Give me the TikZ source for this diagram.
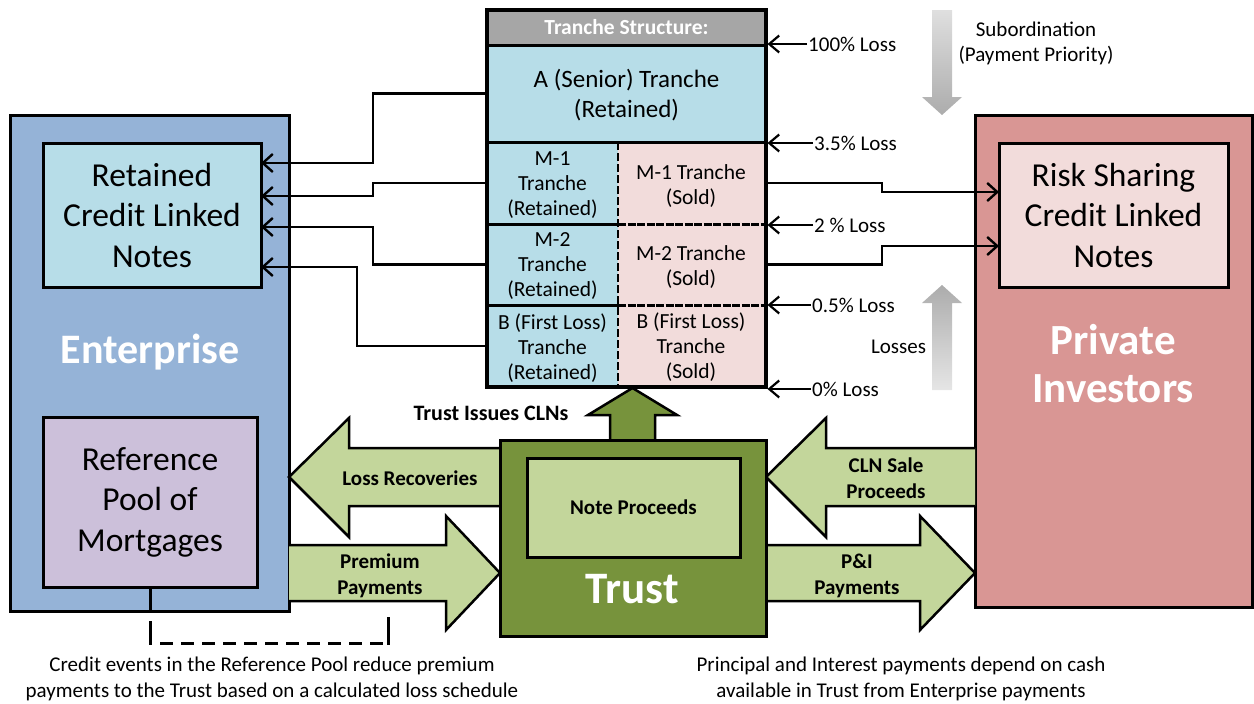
\documentclass[tikz,border=0pt]{standalone}
\usepackage{fontspec}
\setmainfont{Carlito}
\usetikzlibrary{arrows.meta,calc}

\definecolor{entblue}{HTML}{95B3D7}
\definecolor{cellblue}{HTML}{B7DDE8}
\definecolor{poolpurple}{HTML}{CCC0DA}
\definecolor{invred}{HTML}{D99694}
\definecolor{cellpink}{HTML}{F2DCDB}
\definecolor{trustgreen}{HTML}{77933C}
\definecolor{lightgreen}{HTML}{C3D69B}
\definecolor{headgray}{HTML}{A6A6A6}

\newcommand\fsz[2]{\fontsize{#1}{#2}\selectfont}

\begin{document}
\begin{tikzpicture}[x=1pt,y=-1pt,
  box/.style={draw=black,line width=3pt,inner sep=0pt,outer sep=0pt},
  cell/.style={inner sep=0pt,outer sep=0pt,align=center},
  conn/.style={draw=black,line width=2.4pt,line join=miter,
    -{Straight Barb[length=10pt,width=18pt]}},
  lossarrow/.style={draw=black,line width=2.2pt,
    -{Straight Barb[length=10pt,width=17pt]},shorten >=1.5pt},
  blockarrow/.style={fill=lightgreen,draw=black,line width=2.5pt,line join=miter},
  lbl/.style={font=\fsz{21}{25},align=center,inner sep=0pt},
  blbl/.style={font=\bfseries\fsz{21}{26},align=center,inner sep=0pt},
  biglbl/.style={font=\fsz{33.5}{40.5},align=center,inner sep=0pt},
  hugelbl/.style={text=white,font=\bfseries\fsz{43}{48},align=center,inner sep=0pt},
  brk/.style={draw=black,line width=3pt}]
\useasboundingbox (0,0) rectangle (1254,704);

% ---------- Enterprise ----------
\node[box,fill=entblue,minimum width=279pt,minimum height=496pt] (ent) at (149.5,363) {};
\node[box,fill=cellblue,minimum width=218pt,minimum height=144pt] (rcln) at (152,215) {};
\node[biglbl] (rclntxt) at (rcln) {Retained\\Credit Linked\\Notes};
\node[hugelbl,font=\bfseries\fsz{42}{46}] (enttxt) at (150,352) {Enterprise};
\node[box,fill=poolpurple,minimum width=214pt,minimum height=170pt] (pool) at (150,502) {};
\node[biglbl] (pooltxt) at (pool) {Reference\\Pool of\\Mortgages};

% ---------- Private investors ----------
\node[box,fill=invred,minimum width=277pt,minimum height=492pt] (inv) at (1113.5,361) {};
\node[box,fill=cellpink,minimum width=229pt,minimum height=144pt] (rsc) at (1113.5,215) {};
\node[biglbl] (rsctxt) at (rsc) {Risk Sharing\\Credit Linked\\Notes};
\node[hugelbl] (invtxt) at (1113,364) {Private\\Investors};

% ---------- Tranche structure ----------
\node[cell,fill=headgray,minimum width=279pt,minimum height=35pt,
  text=white,font=\bfseries\fsz{21.5}{22}] (hdr) at (626.5,27.5) {Tranche Structure:};
\node[cell,fill=cellblue,minimum width=279pt,minimum height=97pt] (A) at (626.5,93.5) {};
\node[cell,font=\fsz{25}{30}] (Atxt) at (626.5,95) {A (Senior) Tranche\\(Retained)};
\tikzset{tcell/.style={cell,minimum width=#1},
  tcelltxt/.style={cell,font=\fsz{21.5}{25}}}
\node[tcell=131pt,fill=cellblue,minimum height=82pt] (M1r) at (552.5,183) {};
\node[tcell=148pt,fill=cellpink,minimum height=82pt] (M1s) at (692,183) {};
\node[tcell=131pt,fill=cellblue,minimum height=81pt] (M2r) at (552.5,264.5) {};
\node[tcell=148pt,fill=cellpink,minimum height=81pt] (M2s) at (692,264.5) {};
\node[tcell=131pt,fill=cellblue,minimum height=82pt] (Br) at (552.5,346) {};
\node[tcell=148pt,fill=cellpink,minimum height=82pt] (Bs) at (692,346) {};
\node[tcelltxt] (M1rtxt) at (552.5,185) {M-1\\Tranche\\(Retained)};
\node[tcelltxt] (M1stxt) at (691,186) {M-1 Tranche\\(Sold)};
\node[tcelltxt] (M2rtxt) at (552.5,266.5) {M-2\\Tranche\\(Retained)};
\node[tcelltxt] (M2stxt) at (691,267) {M-2 Tranche\\(Sold)};
\node[tcelltxt] (Brtxt) at (552.5,348) {B (First Loss)\\Tranche\\(Retained)};
\node[tcelltxt] (Bstxt) at (691,347.5) {B (First Loss)\\Tranche\\(Sold)};

% grid of the tranche table
\draw[line width=3pt] (hdr.south west) -- (hdr.south east);
\draw[line width=3pt] (A.south west) -- (A.south east);
\draw[line width=3pt] (M1r.south west) -- (M1r.south east);
\draw[line width=3pt] (M2r.south west) -- (M2r.south east);
\draw[line width=3pt,dash pattern=on 8pt off 1.5pt] (M1s.south west) -- (M1s.south east);
\draw[line width=3pt,dash pattern=on 8pt off 1.5pt] (M2s.south west) -- (M2s.south east);
\draw[line width=2.5pt,dash pattern=on 8pt off 3pt] (M1r.north east) -- (Br.south east);
\draw[line width=3.5pt] (hdr.north west) rectangle (Bs.south east);

% loss attachment points
\node[lbl,anchor=west] (l100) at (808,44) {100\% Loss};
\node[lbl,anchor=west] (l35) at (814,143) {3.5\% Loss};
\node[lbl,anchor=west] (l2) at (814,225) {2 \% Loss};
\node[lbl,anchor=west] (l05) at (812,305) {0.5\% Loss};
\node[lbl,anchor=west] (l0) at (812,389) {0\% Loss};
\foreach \l in {l100,l35,l2,l05,l0}
  \draw[lossarrow] ([xshift=-1pt]\l.west) -- (hdr.east |- \l.west);

% subordination and losses direction arrows
\shade[top color=gray!25,bottom color=gray!65]
  (932,10) -- (952,10) -- (952,97) -- (962,97) -- (942,115) -- (922,97) -- (932,97) -- cycle;
\node[lbl] (subtxt) at (1036,43.5) {Subordination\\(Payment Priority)};
\shade[top color=gray!65,bottom color=gray!20]
  (932,390) -- (952,390) -- (952,303) -- (962,303) -- (942,285) -- (922,303) -- (932,303) -- cycle;
\node[lbl] (losstxt) at (898.5,347) {Losses};

% ---------- connectors from tranches to note holders ----------
\draw[conn] (A.west) -| (373,163) -- ($(rcln.north east)+(0,20)$);
\draw[conn] (M1r.west) -| (373,196) -- ($(rcln.north east)+(0,53)$);
\draw[conn] (M2r.west) -| (373,227) -- ($(rcln.north east)+(0,84)$);
\draw[conn] (Br.west) -| (357,267) -- ($(rcln.north east)+(0,124)$);
\draw[conn] (M1s.east) -| (882,192) -- ($(rsc.north west)+(0,49)$);
\draw[conn] (M2s.east) -| (882,246) -- ($(rsc.north west)+(0,103)$);

% ---------- cash-flow block arrows ----------
\draw[blockarrow] (505,448) -- (349,448) -- (349,418) -- (289,477) -- (349,537) -- (349,506) -- (505,506) -- cycle;
\draw[blockarrow] (289,545) -- (446,545) -- (446,516) -- (500,573) -- (446,630) -- (446,601) -- (289,601);
\draw[blockarrow] (975,448) -- (826,448) -- (826,418) -- (766,477) -- (826,537) -- (826,506) -- (975,506);
\draw[blockarrow] (761,545) -- (920,545) -- (920,516) -- (975,573) -- (920,630) -- (920,601) -- (761,601) -- cycle;
\draw[blockarrow,fill=trustgreen] (610,445) -- (610,415) -- (588,415) -- (632.5,388) -- (677,415) -- (655,415) -- (655,445) -- cycle;

% ---------- Trust ----------
\node[box,fill=trustgreen,minimum width=266pt,minimum height=196pt] (trust) at (633,538) {};
\node[box,fill=lightgreen,minimum width=213pt,minimum height=99pt,
  font=\bfseries\fsz{21}{24}] (npr) at (633.5,507.5) {Note Proceeds};
\node[hugelbl,font=\bfseries\fsz{45}{48}] (trusttxt) at (632,589) {Trust};

% arrow labels
\node[blbl,font=\bfseries\fsz{22}{26}] (issuetxt) at (491,413) {Trust Issues CLNs};
\node[blbl] (lrtxt) at (410,478) {Loss Recoveries};
\node[blbl] (pptxt) at (380,576) {Premium\\Payments};
\node[blbl] (clntxt) at (886,478) {CLN Sale\\Proceeds};
\node[blbl] (pitxt) at (857,576) {P\&I\\Payments};

% ---------- credit event link ----------
\draw[brk] (pool.south) -- (ent.south -| pool.south);
\draw[brk] (150,621) -- (150,644.5);
\draw[brk,dash pattern=on 13pt off 8pt] (160,643) -- (388,643);
\draw[brk] (388,617) -- (388,644.5);

% ---------- notes ----------
\node[lbl,font=\fsz{21}{26}] (note1) at (272,679)
  {Credit events in the Reference Pool reduce premium\\payments to the Trust based on a calculated loss schedule};
\node[lbl,font=\fsz{21}{26}] (note2) at (901,679)
  {Principal and Interest payments depend on cash\\available in Trust from Enterprise payments};
\end{tikzpicture}
\end{document}
